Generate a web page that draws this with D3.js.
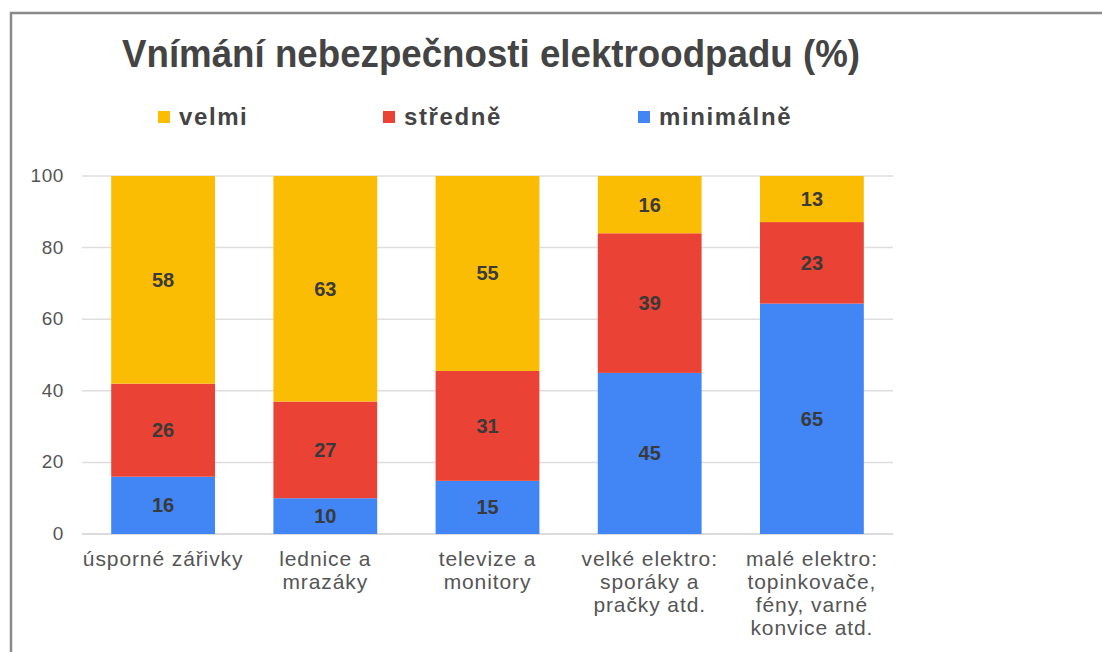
<!DOCTYPE html>
<head>
  <meta charset="utf-8">
  <title>Vnímání nebezpečnosti elektroodpadu</title>
  <script src="https://d3js.org/d3.v7.min.js"></script>
  <style>
    body { margin: 0; background: #fff; }
    text { font-family: "Liberation Sans", Arial, sans-serif; }
  </style>
</head>
<body>
<script>

  // data
  let categories = ["úsporné zářivky", "lednice a mrazáky", "televize a monitory",
                    "velké elektro: sporáky a pračky atd.", "malé elektro: topinkovače, fény, varné konvice atd."];
  let category_lines = [
    ["úsporné zářivky"],
    ["lednice a", "mrazáky"],
    ["televize a", "monitory"],
    ["velké elektro:", "sporáky a", "pračky atd."],
    ["malé elektro:", "topinkovače,", "fény, varné", "konvice atd."]
  ];
  let series_names = ["minimálně", "středně", "velmi"];
  let minimalne = [16, 10, 15, 45, 65];
  let stredne = [26, 27, 31, 39, 23];
  let velmi = [58, 63, 55, 16, 13];
  let y_ticks = [0, 20, 40, 60, 80, 100];
  let legend_order = ["velmi", "středně", "minimálně"];

  let width = 1102;
  let height = 652;
  let margin = {top: 176, right: 209, bottom: 118, left: 82};

  let colors = {"velmi": "#FBBC04", "středně": "#EA4335", "minimálně": "#4285F4"};

  let rows = categories.map(function(c, i) {
    return {cat: c, "minimálně": minimalne[i], "středně": stredne[i], "velmi": velmi[i]};
  });

  let svg = d3.select("body").append("svg")
      .attr("width", width)
      .attr("height", height);

  // frame of the original screenshot
  svg.append("path")
      .attr("d", "M11,652 V13 H1102")
      .attr("fill", "none")
      .attr("stroke", "#8a8a8a")
      .attr("stroke-width", 2.5);

  let x = d3.scaleBand()
      .domain(categories)
      .range([margin.left, width - margin.right])
      .paddingInner(0.36)
      .paddingOuter(0.18);

  let y = d3.scaleLinear()
      .domain([0, 100])
      .range([height - margin.bottom, margin.top]);

  // grid + y labels
  svg.append("g")
      .selectAll("line")
      .data(y_ticks)
      .enter()
      .append("line")
      .attr("x1", margin.left)
      .attr("x2", width - margin.right)
      .attr("y1", d => y(d))
      .attr("y2", d => y(d))
      .attr("stroke", d => d === 0 ? "#cfcfcf" : "#dedede")
      .attr("stroke-width", 1.5);

  svg.append("g")
      .selectAll("text")
      .data(y_ticks)
      .enter()
      .append("text")
      .attr("x", 64)
      .attr("y", d => y(d) + 6)
      .attr("text-anchor", "end")
      .attr("font-size", "19px")
      .attr("letter-spacing", "0.6px")
      .attr("fill", "#555")
      .text(d => d);

  // 100% stacked columns (values in labels are raw, heights normalised)
  let stack = d3.stack()
      .keys(series_names)
      .offset(d3.stackOffsetExpand);

  let layers = stack(rows);

  let layer = svg.append("g")
      .selectAll("g")
      .data(layers)
      .enter()
      .append("g")
      .attr("fill", d => colors[d.key]);

  layer.selectAll("rect")
      .data(d => d.map(p => Object.assign(p, {key: d.key})))
      .enter()
      .append("rect")
      .attr("x", d => x(d.data.cat))
      .attr("width", x.bandwidth())
      .attr("y", d => y(d[1] * 100))
      .attr("height", d => y(d[0] * 100) - y(d[1] * 100));

  layer.selectAll("text")
      .data(d => d)
      .enter()
      .append("text")
      .attr("x", d => x(d.data.cat) + x.bandwidth() / 2)
      .attr("y", d => y((d[0] + d[1]) * 50) + 7)
      .attr("text-anchor", "middle")
      .attr("font-size", "20px")
      .attr("font-weight", "bold")
      .attr("fill", "#3a3a3a")
      .text(d => d.data[d.key]);

  // category labels
  let cat_labels = svg.append("g")
      .selectAll("text")
      .data(categories)
      .enter()
      .append("text")
      .attr("text-anchor", "middle")
      .attr("font-size", "21px")
      .attr("letter-spacing", "0.9px")
      .attr("fill", "#555")
      .attr("transform", d => "translate(" + (x(d) + x.bandwidth() / 2) + ",566)");

  cat_labels.selectAll("tspan")
      .data((d, i) => category_lines[i])
      .enter()
      .append("tspan")
      .attr("x", 0)
      .attr("dy", (d, i) => i === 0 ? 0 : 23)
      .text(d => d);

  // title
  svg.append("text")
      .attr("x", 122)
      .attr("y", 67)
      .attr("font-size", "39px")
      .attr("font-weight", "bold")
      .attr("fill", "#444")
      .attr("textLength", 738)
      .attr("lengthAdjust", "spacingAndGlyphs")
      .text("Vnímání nebezpečnosti elektroodpadu (%)");

  // legend
  let legend_x = [158, 383, 638];
  let legend = svg.append("g")
      .selectAll("g")
      .data(legend_order)
      .enter()
      .append("g")
      .attr("transform", (d, i) => "translate(" + legend_x[i] + ",0)");

  legend.append("rect")
      .attr("x", 0)
      .attr("y", 111)
      .attr("width", 12)
      .attr("height", 12)
      .attr("fill", d => colors[d]);

  legend.append("text")
      .attr("x", 21)
      .attr("y", 125)
      .attr("font-size", "24px")
      .attr("font-weight", "bold")
      .attr("letter-spacing", "1.6px")
      .attr("fill", "#444")
      .text(d => d);

</script>
</body>
